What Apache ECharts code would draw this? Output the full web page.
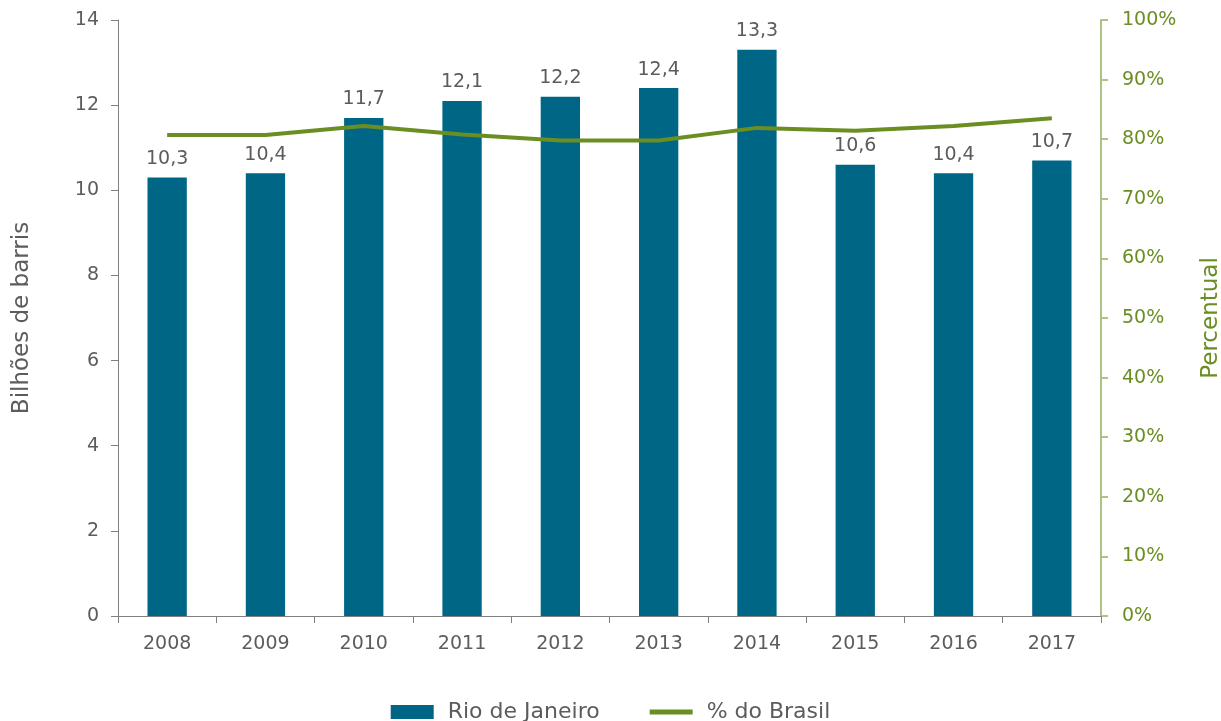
<!DOCTYPE html>
<html>
<head>
<meta charset="utf-8">
<script src="https://cdn.jsdelivr.net/npm/echarts@6/dist/echarts.min.js"></script>
<style>
html,body{margin:0;padding:0;background:#fff;}
#chart{width:1221px;height:721px;}
</style>
</head>
<body>
<div id="chart"></div>
<script>
// Oil reserves, Rio de Janeiro (billion barrels) and share of Brazil (%)
const years = ['2008','2009','2010','2011','2012','2013','2014','2015','2016','2017'];
const rioReserves = [10.3, 10.4, 11.7, 12.1, 12.2, 12.4, 13.3, 10.6, 10.4, 10.7];
const shareBrazil = [80.7, 80.7, 82.2, 80.8, 79.8, 79.8, 81.9, 81.4, 82.2, 83.5];
const leftTicks = { min: 0, max: 14, interval: 2 };
const rightTicks = { min: 0, max: 100, interval: 10 };

const FONT = 'DejaVu Sans';
const WEIGHT = 'normal';
const GREY = '#5c5c5c';
const GREEN = '#6b8e23';
const chart = echarts.init(document.getElementById('chart'));

chart.setOption({
  animation: false,
  textStyle: { fontFamily: FONT, fontWeight: WEIGHT },
  grid: { left: 118, right: 120, top: 20, bottom: 105, outerBoundsMode: 'none', containLabel: false },
  legend: {
    bottom: -7,
    left: 'center',
    itemGap: 50,
    textStyle: { color: GREY, fontSize: 22, fontFamily: FONT, fontWeight: WEIGHT, padding: [0, 0, 0, 9] },
    data: [
      { name: 'Rio de Janeiro', icon: 'rect', itemStyle: { color: '#006685' } },
      { name: '% do Brasil', icon: 'path://M0,0 L10,0 L10,1.2 L0,1.2 Z' }
    ],
    itemWidth: 43,
    itemHeight: 14
  },
  xAxis: {
    type: 'category',
    data: years,
    axisLine: { lineStyle: { color: '#808080', width: 1 } },
    axisTick: { show: true, length: 7, lineStyle: { color: '#808080' } },
    axisLabel: { color: GREY, fontSize: 19, fontWeight: WEIGHT, margin: 19 }
  },
  yAxis: [
    {
      type: 'value',
      min: leftTicks.min, max: leftTicks.max, interval: leftTicks.interval,
      name: 'Bilhões de barris',
      nameLocation: 'middle',
      nameGap: 84,
      nameTextStyle: { color: GREY, fontSize: 23, fontWeight: WEIGHT },
      axisLine: { show: true, lineStyle: { color: '#808080' } },
      axisTick: { show: true, length: 7, lineStyle: { color: '#808080' } },
      axisLabel: { color: GREY, fontSize: 19, fontWeight: WEIGHT, margin: 19 },
      splitLine: { show: false }
    },
    {
      type: 'value',
      position: 'right',
      min: rightTicks.min, max: rightTicks.max, interval: rightTicks.interval,
      name: 'Percentual',
      nameLocation: 'middle',
      nameGap: 99,
      nameRotate: 90,
      nameTextStyle: { color: GREEN, fontSize: 23, fontWeight: WEIGHT },
      axisLine: { show: true, lineStyle: { color: '#adc284', width: 2 } },
      axisTick: { show: true, length: 7, lineStyle: { color: '#adc284', width: 2 } },
      axisLabel: { color: GREEN, fontSize: 19, fontWeight: WEIGHT, margin: 21, formatter: '{value}%' },
      splitLine: { show: false }
    }
  ],
  series: [
    {
      name: 'Rio de Janeiro',
      type: 'bar',
      data: rioReserves,
      barWidth: '40%',
      itemStyle: { color: '#006685' },
      label: {
        show: true,
        position: 'top',
        distance: 9,
        color: GREY,
        fontSize: 19,
        fontWeight: WEIGHT,
        formatter: p => p.value.toFixed(1).replace('.', ',')
      }
    },
    {
      name: '% do Brasil',
      type: 'line',
      yAxisIndex: 1,
      data: shareBrazil,
      symbol: 'none',
      lineStyle: { color: '#6b8e23', width: 4 },
      itemStyle: { color: '#6b8e23' }
    }
  ]
});
</script>
</body>
</html>
